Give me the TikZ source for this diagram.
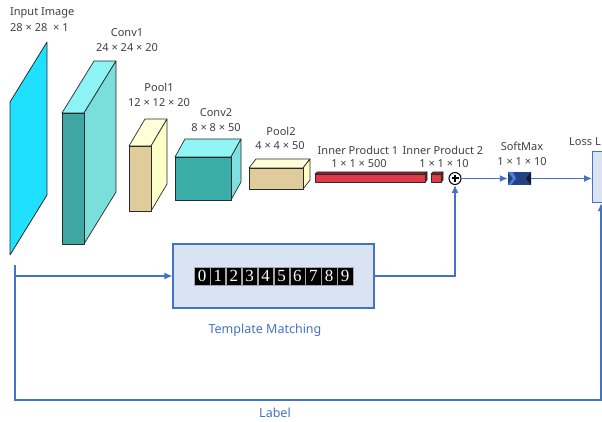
\documentclass[tikz,border=0pt]{standalone}
\usepackage{fontspec}
\setmainfont{Noto Sans}
\newfontfamily\digitfont{Liberation Serif}
\usetikzlibrary{arrows.meta}
\definecolor{lblue}{HTML}{4472C4}
\definecolor{boxfill}{HTML}{DAE3F3}
\definecolor{txt}{HTML}{404040}
\definecolor{edge}{HTML}{2A2A2A}
\definecolor{incyan}{HTML}{1FE0FF}
\definecolor{cAfront}{HTML}{3FA6A3}
\definecolor{cAside}{HTML}{7ADFDA}
\definecolor{cAtop}{HTML}{8EF3F5}
\definecolor{cBfront}{HTML}{3AADA8}
\definecolor{cBside}{HTML}{7EE0E0}
\definecolor{cBtop}{HTML}{90F5F5}
\definecolor{pfront}{HTML}{E0CB9A}
\definecolor{pside}{HTML}{FFFFC8}
\definecolor{ptop}{HTML}{FFFFDA}
\definecolor{rfront}{HTML}{E03A4A}
\definecolor{rside}{HTML}{8A1A22}
\definecolor{rtop}{HTML}{A02530}
\definecolor{smbody}{HTML}{24427F}
\definecolor{smleft}{HTML}{4A7FE0}
\definecolor{smright}{HTML}{0A1A3A}
\newcommand\mycuboid[9]{%
  \filldraw[fill=#9,draw=edge,line width=0.7pt,line join=round] (#1,#2) -- (#3,#2) -- ++(#5,#6) -- ++(#1-#3,0) -- cycle;
  \filldraw[fill=#8,draw=edge,line width=0.7pt,line join=round] (#3,#2) -- (#3,#4) -- ++(#5,#6) -- ++(0,#2-#4) -- cycle;
  \filldraw[fill=#7,draw=edge,line width=0.7pt,line join=round] (#1,#2) rectangle (#3,#4);
}
\begin{document}
\begin{tikzpicture}[x=1pt,y=-1pt,
  lbl/.style={text=txt,font=\fontsize{11}{12}\selectfont,inner sep=0pt},
  blbl/.style={text=lblue,font=\fontsize{12.5}{13}\selectfont,inner sep=0pt},
  conn/.style={draw=lblue,line width=1.3pt},
  arr/.style={conn,-{Latex[length=8pt,width=7pt]}},
  digit/.style={fill=black,draw=gray!70,line width=0.4pt,text=white,minimum width=15.4pt,minimum height=18pt,inner sep=0pt,font=\digitfont\fontsize{17}{17}\selectfont},
  bluebox/.style={draw=lblue,fill=boxfill,line width=1.2pt,inner sep=0pt}]
\useasboundingbox (0,0) rectangle (602,422);
\clip (0,0) rectangle (602,422);

% input image
\filldraw[fill=incyan,draw=edge,line width=0.8pt,line join=round]
  (10,102) -- (47,42) -- (47,195) -- (10,255) -- cycle;

% layers
\mycuboid{62}{113}{84}{244}{32}{-52}{cAfront}{cAside}{cAtop}
\mycuboid{129}{146}{151}{211}{16}{-27}{pfront}{pside}{ptop}
\mycuboid{175}{157}{231}{200}{10}{-18}{cBfront}{cBside}{cBtop}
\mycuboid{249}{168}{303}{189}{7}{-9}{pfront}{pside}{ptop}
\mycuboid{315}{174}{425}{182}{2}{-2}{rfront}{rside}{rtop}
\mycuboid{431}{174}{441}{182}{2}{-2}{rfront}{rside}{rtop}

% labels
\node[lbl,anchor=west] (tin1) at (10,13) {Input Image};
\node[lbl,anchor=west] (tin2) at (10,28) {28 × 28 \ × 1};
\node[lbl] (tc1a) at (127,33) {Conv1};
\node[lbl] (tc1b) at (127,48) {24 × 24 × 20};
\node[lbl] (tp1a) at (159,87) {Pool1};
\node[lbl] (tp1b) at (159,103) {12 × 12 × 20};
\node[lbl] (tc2a) at (216,113) {Conv2};
\node[lbl] (tc2b) at (216,128) {8 × 8 × 50};
\node[lbl] (tp2a) at (281,131) {Pool2};
\node[lbl] (tp2b) at (280,146) {4 × 4 × 50};
\node[lbl] (ti1a) at (358,150) {Inner Product 1};
\node[lbl] (ti1b) at (359,164) {1 × 1 × 500};
\node[lbl] (ti2a) at (443,150) {Inner Product 2};
\node[lbl] (ti2b) at (444,164) {1 × 1 × 10};
\node[lbl] (tsma) at (522,146) {SoftMax};
\node[lbl] (tsmb) at (522,162) {1 × 1 × 10};
\node[lbl,anchor=west] (tloss) at (569,142) {Loss L};

% plus circle
\node[circle,draw=black,fill=white,line width=1pt,minimum size=12pt,inner sep=0pt] (plus) at (455,178.5) {};
\draw[line width=2pt] (451.5,178.5) -- (458.5,178.5) (455,175) -- (455,182);

% softmax
\node[minimum width=23pt,minimum height=13pt,inner sep=0pt] (sm) at (519.5,178.5) {};
\fill[smbody] (sm.north west) rectangle (sm.south east);
\fill[smleft] (sm.north west) -- (513,178.5) -- (sm.south west) -- ++(3,0) -- (516,178.5) -- ++(-3,-6.5) -- cycle;
\fill[smright] (sm.north east) -- (526,178.5) -- (sm.south east) -- cycle;

% loss box
\node[bluebox,minimum width=30pt,minimum height=51pt,anchor=north west] (loss) at (592,151) {};

% template box
\node[bluebox,minimum width=201pt,minimum height=64pt] (tmpl) at (273.5,276) {};
\foreach \d in {0,...,9}
  \node[digit] (dg\d) at ({202+\d*15.9},276) {\d};

\node[blbl] (ttm) at (265,330) {Template Matching};
\node[blbl] (tlab) at (275,413) {Label};

% connectors
\coordinate (lstart) at (15,265);
\coordinate (lcorner) at (15,400);
\coordinate (rcorner) at (601,400);
\draw[arr] (lstart) -- (lcorner) -- (rcorner) -- (loss.south -| rcorner);
\draw[arr] (lstart |- tmpl.west) -- (tmpl.west);
\draw[arr] (tmpl.east) -| (plus.south);
\draw[arr] (plus.east) -- (sm.west);
\draw[arr] (sm.east) -- (loss.west |- sm.east);
\end{tikzpicture}
\end{document}
